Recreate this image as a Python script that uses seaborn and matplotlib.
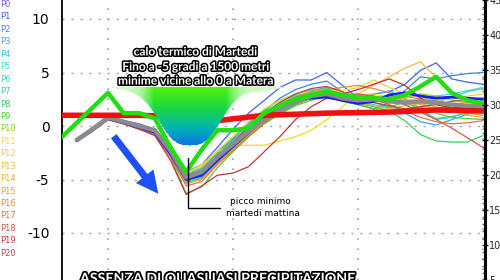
import numpy as np
import pandas as pd
import matplotlib
matplotlib.use("Agg")
import matplotlib.pyplot as plt
import matplotlib.patheffects as pe
import seaborn as sns

# ---------------- data ----------------
hours = [-6, -3, 0, 3, 6, 9, 12, 15, 18, 21, 24, 27, 30, 33, 36, 39, 42, 45, 48, 51, 54, 57, 60, 63, 66, 69, 72]

members = ["P0", "P1", "P2", "P3", "P4", "P5", "P6", "P7", "P8", "P9", "P10",
           "P11", "P12", "P13", "P14", "P15", "P16", "P17", "P18", "P19", "P20"]

member_colors = ["#7a5cf5", "#3f64ee", "#3a86ee", "#38a6ea", "#2cc6ee", "#4cd6dc", "#3cd6bc",
                 "#3cd690", "#3cce5a", "#52cf3a", "#78d81e", "#f2dc1c", "#f4cf3a", "#f0bf3c",
                 "#f0ae3c", "#ee9c3e", "#e88a40", "#e07448", "#cc5a48", "#c23434", "#b84646"]

P0 = [-1.4, -0.4, 0.7, 0.3, -0.1, -0.6, -2.6, -5.0, -4.6, -3.2, -1.9, -0.6, 0.8, 1.7, 2.4, 2.6, 2.7, 2.4, 2.1, 2.3, 2.9, 3.1, 2.8, 2.6, 2.7, 2.6, 2.5]
P1 = [-1.2, -0.2, 0.9, 0.5, 0.2, -0.3, -2.0, -4.3, -3.6, -2.0, -0.3, 1.2, 2.4, 3.6, 4.3, 4.3, 5.0, 3.8, 2.6, 3.0, 3.2, 3.9, 5.2, 5.9, 4.4, 4.1, 3.9]
P2 = [-1.3, -0.3, 0.8, 0.4, 0.0, -0.5, -2.4, -4.9, -4.4, -2.6, -1.2, 0.2, 1.4, 2.6, 3.4, 3.9, 4.2, 3.2, 2.0, 1.6, 2.2, 3.3, 4.6, 4.4, 4.7, 4.9, 5.0]
P3 = [-1.2, -0.3, 0.7, 0.3, -0.1, -0.5, -2.2, -4.6, -4.0, -2.5, -1.3, -0.2, 1.0, 2.0, 2.8, 3.3, 3.6, 2.9, 2.5, 2.2, 1.8, 1.2, 0.4, 0.1, 0.6, 1.1, 1.5]
P4 = [-1.3, -0.4, 0.6, 0.2, -0.3, -0.8, -2.8, -5.3, -4.8, -3.3, -2.0, -0.8, 0.4, 1.6, 2.5, 3.1, 3.3, 2.8, 2.6, 2.9, 3.3, 2.6, 1.6, 0.6, 0.8, 1.3, 1.6]
P5 = [-1.4, -0.4, 0.7, 0.3, -0.2, -0.7, -2.5, -5.1, -4.7, -3.0, -1.6, -0.3, 0.9, 2.0, 2.8, 3.4, 3.4, 3.0, 2.8, 2.7, 2.4, 2.0, 2.4, 2.8, 3.0, 3.3, 3.6]
P6 = [-1.3, -0.3, 0.8, 0.3, -0.1, -0.6, -2.3, -4.7, -4.1, -2.7, -1.4, 0.0, 1.2, 2.2, 2.9, 3.2, 3.0, 2.7, 2.3, 2.0, 1.7, 1.5, 1.7, 2.2, 2.7, 3.2, 3.5]
P7 = [-1.2, -0.2, 0.9, 0.5, 0.1, -0.4, -2.1, -4.5, -3.9, -2.4, -1.1, 0.3, 1.5, 2.4, 3.0, 3.3, 3.5, 3.0, 2.7, 2.6, 2.5, 2.3, 1.4, 0.7, 0.9, 1.2, 1.3]
P8 = [-1.3, -0.3, 0.8, 0.4, 0.0, -0.5, -2.6, -5.2, -4.9, -3.4, -2.1, -0.8, 0.3, 1.2, 2.0, 2.6, 2.7, 2.4, 2.1, 1.8, 1.4, 0.5, -0.8, -1.4, -1.5, -1.5, -0.9]
P9 = [-1.4, -0.4, 0.6, 0.2, -0.2, -0.7, -2.9, -6.3, -5.7, -3.9, -2.4, -1.0, 0.2, 1.1, 1.9, 2.4, 2.8, 2.3, 2.0, 1.6, 1.8, 2.2, 1.7, 1.2, 0.8, 0.7, 0.6]
P10 = [-1.3, -0.4, 0.7, 0.3, -0.1, -0.6, -2.3, -4.9, -4.5, -3.1, -1.9, -0.6, 0.7, 1.6, 2.3, 2.9, 3.1, 2.9, 2.6, 2.4, 2.2, 2.6, 3.0, 2.8, 2.4, 2.2, 2.0]
P11 = [-1.2, -0.3, 0.8, 0.4, 0.0, -0.4, -2.0, -4.4, -3.6, -2.4, -1.8, -1.8, -1.8, -1.4, -1.0, -0.4, 0.6, 1.8, 2.9, 3.0, 2.7, 2.5, 2.4, 2.6, 2.8, 2.6, 2.4]
P12 = [-1.3, -0.3, 0.9, 0.5, 0.1, -0.3, -2.0, -4.4, -3.8, -2.3, -1.0, 0.4, 1.6, 2.4, 3.0, 3.2, 3.4, 3.3, 3.6, 4.3, 3.6, 3.0, 2.6, 2.4, 2.5, 2.8, 3.0]
P13 = [-1.3, -0.3, 0.8, 0.4, 0.0, -0.5, -2.4, -4.8, -4.2, -2.8, -1.5, -0.2, 1.1, 2.1, 2.7, 2.9, 2.9, 2.6, 3.0, 3.8, 4.6, 5.4, 6.0, 4.5, 3.2, 2.5, 2.2]
P14 = [-1.2, -0.3, 0.8, 0.3, -0.1, -0.6, -2.6, -5.1, -4.6, -3.1, -1.8, -0.5, 0.8, 1.8, 2.6, 3.1, 3.3, 2.8, 2.2, 1.9, 1.6, 1.9, 2.1, 1.8, 1.4, 1.0, 0.8]
P15 = [-1.4, -0.4, 0.7, 0.2, -0.2, -0.7, -2.7, -5.4, -5.0, -3.5, -2.2, -0.9, 0.4, 1.4, 2.3, 2.7, 3.0, 2.8, 2.7, 2.6, 2.8, 2.5, 2.0, 1.6, 1.9, 2.3, 2.6]
P16 = [-1.3, -0.3, 0.8, 0.4, 0.1, -0.4, -2.2, -4.7, -4.2, -2.9, -1.6, -0.4, 0.9, 1.9, 2.7, 3.2, 3.4, 3.6, 3.8, 3.5, 3.1, 2.8, 2.5, 2.0, 1.6, 1.2, 1.0]
P17 = [-1.3, -0.4, 0.7, 0.3, -0.2, -0.8, -2.9, -5.6, -5.2, -3.6, -2.3, -1.0, 0.3, 1.3, 2.1, 2.6, 3.1, 3.0, 2.9, 2.5, 2.0, 1.4, 0.8, 0.4, 0.2, 0.3, 0.5]
P18 = [-1.2, -0.3, 0.8, 0.4, 0.0, -0.5, -2.5, -5.0, -4.6, -3.0, -1.7, -0.3, 1.1, 2.0, 2.7, 3.0, 3.0, 2.9, 3.0, 2.8, 2.5, 2.0, 1.3, 0.6, -0.2, -1.1, -2.0]
P19 = [-1.4, -0.5, 0.6, 0.2, -0.3, -0.9, -3.2, -6.4, -5.6, -4.6, -4.4, -3.8, -2.4, -1.0, 0.6, 1.8, 2.6, 3.0, 3.4, 3.9, 4.4, 3.8, 2.6, 2.0, 1.7, 1.8, 2.0]
P20 = [-1.3, -0.4, 0.7, 0.3, -0.1, -0.6, -2.4, -4.9, -4.3, -2.8, -1.5, -0.1, 1.2, 2.2, 3.0, 3.5, 3.7, 3.2, 2.6, 2.2, 1.9, 1.6, 1.8, 2.0, 2.3, 2.5, 2.6]
member_values = [P0, P1, P2, P3, P4, P5, P6, P7, P8, P9, P10, P11, P12, P13, P14, P15, P16, P17, P18, P19, P20]

ens_mean = [-1.3, -0.3, 0.8, 0.4, 0.0, -0.4, -2.3, -4.8, -4.3, -2.9, -1.7, -0.5, 0.6, 1.5, 2.2, 2.8, 3.0, 2.6, 2.4, 2.5, 2.3, 2.2, 2.3, 2.2, 2.0, 1.9, 1.8]

oper_hours = [-9, -6, -3, 0, 3, 6, 9, 12, 15, 18, 21, 24, 27, 30, 33, 36, 39, 42, 45, 48, 51, 54, 57, 60, 63, 66, 69, 72]
oper_run = [-1.1, 0.3, 1.7, 3.1, 1.2, 1.2, 0.7, -2.0, -4.3, -2.2, -0.4, -0.4, -0.2, 1.2, 1.9, 2.5, 2.9, 3.2, 2.9, 2.7, 2.6, 2.5, 2.9, 3.7, 4.6, 3.1, 2.4, 2.1]

clim_hours = [-9, 6, 12, 18, 21, 30, 36, 42, 54, 63, 72.5]
clim_values = [1.0, 1.0, 0.9, 0.6, 0.5, 1.0, 1.1, 1.2, 1.3, 1.5, 1.4]

left_ticks = [10, 5, 0, -5, -10]
right_ticks = [5, 10, 15, 20, 25, 30, 35, 40, 45]

# ---------------- figure ----------------
sns.set_style("white")
plt.rcParams["axes.unicode_minus"] = False
plt.rcParams["font.family"] = ["DejaVu Sans"]

W, H = 500, 280
fig = plt.figure(figsize=(W / 100, H / 100), dpi=100)
fig.patch.set_facecolor("white")

x0px, x1px = 62, 485
ax = fig.add_axes([x0px / W, 0, (x1px - x0px) / W, 1])

PXH = 125 / 24.0      # pixels per hour
PXV = 10.7            # pixels per degree
def t_of(px):
    return (px - 108) / PXH
def v_of(py):
    return (126 - py) / PXV

XLIM = (t_of(x0px), t_of(x1px))
YLIM = (v_of(H), v_of(0))

# grid
for gv in left_ticks:
    ax.axhline(gv, color="#a0a0a0", lw=1.0, ls=(0, (1.5, 5)), zorder=0.5)
for gt in [0, 24, 48, 72]:
    ax.axvline(gt, color="#a0a0a0", lw=1.2, ls=(0, (1, 5)), zorder=0.5)

# members
long = pd.DataFrame({
    "t": np.tile(hours, len(members)),
    "v": np.concatenate(member_values),
    "member": np.repeat(members, len(hours)),
})
sns.lineplot(data=long, x="t", y="v", hue="member", hue_order=members,
             palette=dict(zip(members, member_colors)), lw=0.9, legend=False,
             ax=ax, zorder=2, estimator=None)

# control thicker
sns.lineplot(x=hours, y=P0, color="#1a1aff", lw=2.0, ax=ax, zorder=2.5)
# ensemble mean
sns.lineplot(x=hours, y=ens_mean, color="#8c8c8c", lw=3.2, ax=ax, zorder=3)
# climatology
sns.lineplot(x=clim_hours, y=clim_values, color="#ee1111", lw=4.0, ax=ax, zorder=3.5)

# gradient funnel (annotation)
xs = np.arange(106, 292)
ys = np.arange(84, 150)
XX, YY = np.meshgrid(xs, ys)
d = np.abs(XX - 190.0)
frac = np.exp(-(d / 37.4) ** 2.79)
taper = np.clip((XX - 110) / 25, 0, 1) * np.clip((286 - XX) / 25, 0, 1)
top = 87.0
bottom = top + 4.0 * taper + 55.0 * frac
inside = (YY >= top) & (YY <= bottom) & (taper > 0)
fy = np.clip((YY - top) / 59.0, 0, 1)
stops = np.array([0.0, 0.35, 0.7, 1.0])
cols = np.array([[0.30, 0.95, 0.05], [0.10, 0.85, 0.25], [0.0, 0.70, 0.70], [0.05, 0.45, 0.92]])
img = np.zeros(XX.shape + (4,))
for c in range(3):
    img[..., c] = np.interp(fy, stops, cols[:, c])
whiten = 0.75 * (1 - np.clip(frac * 2.5, 0, 1))
for c in range(3):
    img[..., c] = img[..., c] * (1 - whiten) + whiten
img[..., 3] = inside.astype(float)
ax.imshow(img, extent=[t_of(xs[0]), t_of(xs[-1]), v_of(ys[-1]), v_of(ys[0])],
          origin="upper", aspect="auto", interpolation="bilinear", zorder=4)

# operational run
sns.lineplot(x=oper_hours, y=oper_run, color="#22dd11", lw=3.2, ax=ax, zorder=5)

ax.set_xlim(*XLIM)
ax.set_ylim(*YLIM)

# axes styling
ax.set_xticks([])
ax.set_yticks(left_ticks)
ax.set_yticklabels([str(v) for v in left_ticks], fontsize=10, color="black")
ax.tick_params(axis="y", length=0, pad=9)
ax.set_xlabel("")
ax.set_ylabel("")
for s in ["top", "bottom", "right"]:
    ax.spines[s].set_visible(False)
ax.spines["left"].set_color("black")
ax.spines["left"].set_linewidth(1.3)

ax2 = ax.twinx()
ax2.set_ylim(30 - (H - 105) / 7.1, 30 + 105 / 7.1)
ax2.set_yticks(right_ticks)
ax2.set_yticklabels([str(v) for v in right_ticks], fontsize=7)
ax2.set_yticks(np.arange(5, 46, 1), minor=True)
ax2.tick_params(axis="y", which="major", direction="inout", length=4, width=1, pad=1)
ax2.tick_params(axis="y", which="minor", direction="in", length=2, width=1, color="#666666")
for s in ["top", "bottom", "left"]:
    ax2.spines[s].set_visible(False)
ax2.spines["right"].set_linewidth(2.2)
ax2.spines["right"].set_color("black")

# ---------------- annotations ----------------
def fp(x, y):
    return (x / W, 1 - y / H)

outline = [pe.Stroke(linewidth=2.2, foreground="black"), pe.Normal()]
fam = ["Lato", "DejaVu Sans"]
for txt, y in [("calo termico di Martedi", 52), ("Fino a -5 gradi a 1500 metri", 67),
               ("minime vicine allo 0 a Matera", 81)]:
    fig.text(*fp(195, y), txt, ha="center", va="center", fontsize=8.6, color="white",
             fontweight="bold", family=fam, path_effects=outline, zorder=8)

fig.text(*fp(80, 283), "ASSENZA DI QUASLIASI PRECIPITAZIONE", ha="left", va="baseline",
         fontsize=10.2, color="white", fontweight="bold", family=fam,
         path_effects=[pe.Stroke(linewidth=2.6, foreground="black"), pe.Normal()], zorder=8)

# blue arrow
ax.annotate("", xy=(160, H - 196), xytext=(112, H - 134), xycoords="figure pixels",
            textcoords="figure pixels",
            arrowprops=dict(arrowstyle="simple,head_length=1.6,head_width=1.6,tail_width=0.5",
                            color="#1e50ff", lw=0), zorder=7)

# bracket
bx, by = zip(fp(188, 158), fp(188, 208), fp(220, 208))
fig.add_artist(plt.Line2D(bx, by, color="black", lw=1.0, transform=fig.transFigure, zorder=7))
fig.text(*fp(230, 202), "picco minimo", ha="left", va="center", fontsize=6.5, color="black")
fig.text(*fp(226, 214), "martedi mattina", ha="left", va="center", fontsize=6.5, color="black")

# ensemble member labels
for i, (m, c) in enumerate(zip(members, member_colors)):
    fig.text(*fp(0.5, 4.5 + i * 12.44), m, ha="left", va="center", fontsize=6, color=c)

fig.savefig("out.png", dpi=100, facecolor="white")
